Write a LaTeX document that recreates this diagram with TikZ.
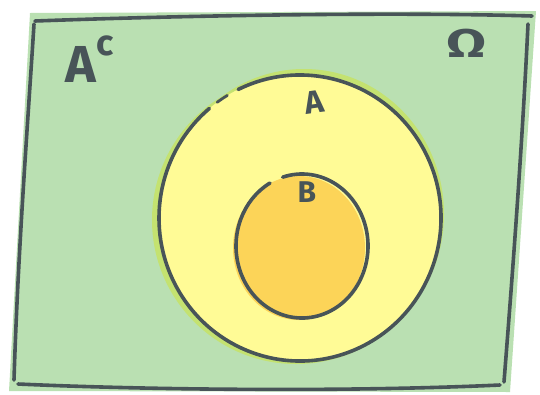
\documentclass[tikz,border=0pt]{standalone}
\usepackage{fontspec}
\setsansfont{Fira Sans}
\usepackage{tikz}
\usetikzlibrary{positioning}
\definecolor{omegagreen}{RGB}{186,224,178}
\definecolor{limeedge}{RGB}{196,226,112}
\definecolor{setyellow}{RGB}{255,251,150}
\definecolor{setorange}{RGB}{252,212,88}
\definecolor{inkgrey}{RGB}{72,84,88}
\newcommand{\lbl}[1]{\fontsize{#1}{#1}\selectfont\sffamily\bfseries}

\begin{document}
\begin{tikzpicture}[x=1pt, y=-1pt, line width=3.6pt, line cap=round, line join=round]
    \useasboundingbox (0,0) rectangle (540,394);
    % sample space
    \fill[omegagreen] (30,13) -- (536,11) -- (510,392) -- (9,391) -- cycle;
    \draw[inkgrey] (35,21) .. controls (200,15) and (400,12) .. (532,16);
    \draw[inkgrey] (528,24) .. controls (522,150) and (512,280) .. (504,382);
    \draw[inkgrey] (500,385) .. controls (350,392) and (150,390) .. (18,384);
    \draw[inkgrey] (14,380) .. controls (18,250) and (28,120) .. (34,24);
    % set A
    \fill[limeedge] (296,220) ellipse (144 and 144);
    \fill[limeedge] (304,214) ellipse (140 and 145);
    \fill[setyellow] (300,218) ellipse (141 and 143);
    \draw[inkgrey] (300,218) ++(244:141 and 143) arc (244:590:141 and 143);
    \draw[inkgrey, line width=2.8pt] (300,218) ++(234:141 and 143) arc (234:239:141 and 143);
    % set B
    \fill[setorange] (299,248) ellipse (66 and 72);
    \draw[inkgrey] (302,246) ++(253:66 and 72) arc (253:601:66 and 72);
    % labels
    \node[text=inkgrey, font=\lbl{52}, inner sep=0pt, anchor=base west] (acomp) at (64,82) {A\raisebox{27pt}{\fontsize{36}{36}\selectfont c}};
    \node[text=inkgrey, font=\lbl{40}, inner sep=0pt, anchor=base, xscale=1.45] (omega) at (467,57) {Ω};
    \node[text=inkgrey, font=\lbl{32}, inner sep=0pt, rotate=8] (seta) at (314,102) {A};
    \node[text=inkgrey, font=\lbl{30}, inner sep=0pt] (setb) at (307,192) {B};
\end{tikzpicture}
\end{document}
